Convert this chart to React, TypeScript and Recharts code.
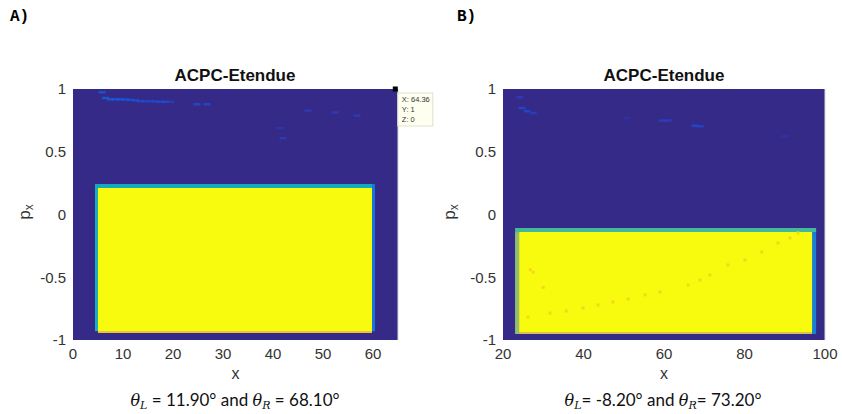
import React from 'react'
import {
  ScatterChart, Scatter, XAxis, YAxis, CartesianGrid, ReferenceArea, ReferenceLine,
} from 'recharts'

// --- data ---
const ticksY = [-1, -0.5, 0, 0.5, 1]
const ticksXA = [0, 10, 20, 30, 40, 50, 60]
const ticksXB = [20, 40, 60, 80, 100]

// region maps: [x1, x2, y1, y2, level]
const regionsA: [number, number, number, number, number][] = [
  [4.4, 5.0, -0.93, 0.243, 0.5],
  [4.4, 60.4, 0.211, 0.243, 0.48],
  [59.8, 60.4, -0.93, 0.243, 0.3],
  [5.0, 59.8, -0.944, -0.928, 0.85],
  [5.0, 59.8, -0.928, 0.211, 1],
]
const regionsB: [number, number, number, number, number][] = [
  [23.0, 97.8, -0.14, -0.108, 0.58],
  [23.0, 24.0, -0.952, -0.14, 0.68],
  [96.8, 97.8, -0.952, -0.14, 0.33],
  [24.0, 96.8, -0.952, -0.936, 0.8],
  [24.0, 96.8, -0.936, -0.14, 1],
]

const speckA = [
  { x: 5.8, y: 0.976, level: 0.22 },
  { x: 6.5, y: 0.93, level: 0.24 }, { x: 7.5, y: 0.92, level: 0.24 },
  { x: 8.5, y: 0.92, level: 0.22 }, { x: 9.5, y: 0.92, level: 0.22 },
  { x: 10.5, y: 0.918, level: 0.2 }, { x: 11.5, y: 0.915, level: 0.2 },
  { x: 12.5, y: 0.912, level: 0.18 }, { x: 13.5, y: 0.905, level: 0.16 },
  { x: 14.5, y: 0.905, level: 0.14 }, { x: 15.5, y: 0.905, level: 0.14 },
  { x: 16.5, y: 0.903, level: 0.14 }, { x: 17.5, y: 0.9, level: 0.16 },
  { x: 18.5, y: 0.9, level: 0.18 }, { x: 19.5, y: 0.9, level: 0.12 },
  { x: 24.8, y: 0.88, level: 0.16 }, { x: 26.8, y: 0.88, level: 0.16 },
  { x: 47, y: 0.83, level: 0.1 }, { x: 52.4, y: 0.815, level: 0.1 },
  { x: 56.8, y: 0.79, level: 0.1 }, { x: 41.4, y: 0.69, level: 0.08 },
  { x: 42, y: 0.61, level: 0.1 },
]
const speckB = [
  { x: 24.2, y: 0.936, level: 0.1 }, { x: 24.7, y: 0.85, level: 0.16 },
  { x: 26, y: 0.825, level: 0.16 }, { x: 27.5, y: 0.81, level: 0.12 },
  { x: 50.8, y: 0.77, level: 0.06 }, { x: 59.5, y: 0.75, level: 0.12 },
  { x: 61, y: 0.75, level: 0.12 }, { x: 67.7, y: 0.71, level: 0.16 },
  { x: 69, y: 0.705, level: 0.14 }, { x: 90, y: 0.625, level: 0.06 },
]
const traceB = [
  { x: 26.2, y: -0.817 }, { x: 31.7, y: -0.785 }, { x: 35.7, y: -0.769 },
  { x: 39.9, y: -0.745 }, { x: 43.6, y: -0.721 }, { x: 47.3, y: -0.697 },
  { x: 51.1, y: -0.673 }, { x: 55.3, y: -0.641 }, { x: 59.0, y: -0.618 },
  { x: 66.0, y: -0.562 }, { x: 68.9, y: -0.522 }, { x: 71.4, y: -0.482 },
  { x: 75.9, y: -0.402 }, { x: 80.1, y: -0.363 }, { x: 84.3, y: -0.299 },
  { x: 88.3, y: -0.227 }, { x: 91.3, y: -0.187 }, { x: 93.3, y: -0.147 },
  { x: 27.5, y: -0.46 }, { x: 30, y: -0.58 }, { x: 26.8, y: -0.44 },
]
const tipA = [{ x: 64.36, y: 1, z: 0 }]

// parula-ish colormap
const stops = ['#352a87', '#2c3fc4', '#0f5cdd', '#1481d6', '#06a4ca', '#2eb7a4', '#87bf77', '#d1bb59', '#fec832', '#f9fb0e']
const hex = (h: string) => [1, 3, 5].map(i => parseInt(h.slice(i, i + 2), 16))
const parula = (t: number) => {
  const p = Math.max(0, Math.min(1, t)) * (stops.length - 1)
  const i = Math.min(stops.length - 2, Math.floor(p))
  const f = p - i
  const a = hex(stops[i]), b = hex(stops[i + 1])
  const c = a.map((v, k) => Math.round(v + (b[k] - v) * f))
  return `rgb(${c[0]},${c[1]},${c[2]})`
}

const textFont = 'Liberation Sans, Arial, sans-serif'
const tickStyle = { fontSize: 15, fill: '#333', fontFamily: textFont }

const Speck = (props: any) => {
  const { cx, cy, payload } = props
  return <rect x={cx - 3.5} y={cy - 1} width={7} height={2.5} fill={parula(payload.level)} opacity={0.8} />
}

const TraceDot = (props: any) => {
  const { cx, cy } = props
  return <rect x={cx - 1.5} y={cy - 1.5} width={3} height={3} fill="#f3d81a" />
}

const DataTip = (props: any) => {
  const { cx, cy, payload } = props
  return (
    <g>
      <rect x={cx - 2} y={cy - 2.5} width={5} height={5} fill="#000" />
      <rect x={cx + 3} y={cy + 4} width={35} height={33} fill="#fffff0" stroke="#e0e0d0" />
      <g fontFamily={textFont} fontSize={7.5} fill="#333">
        <text x={cx + 7} y={cy + 13}>{`X: ${payload.x}`}</text>
        <text x={cx + 7} y={cy + 23}>{`Y: ${payload.y}`}</text>
        <text x={cx + 7} y={cy + 33}>{`Z: ${payload.z}`}</text>
      </g>
    </g>
  )
}

interface PanelProps {
  left: number
  width: number
  margin: { top: number; right: number; bottom: number; left: number }
  domainX: [number, number]
  ticksX: number[]
  regions: [number, number, number, number, number][]
  specks: { x: number; y: number; level: number }[]
  trace?: { x: number; y: number }[]
  tip?: { x: number; y: number; z: number }[]
}

function Panel({ left, width, margin, domainX, ticksX, regions, specks, trace, tip }: PanelProps) {
  return (
    <div style={{ position: 'absolute', left, top: 0 }}>
      <ScatterChart width={width} height={414} margin={margin}>
        <CartesianGrid fill={parula(0)} fillOpacity={1} horizontal={false} vertical={false} stroke="none" />
        <XAxis
          type="number" dataKey="x" domain={domainX} ticks={ticksX}
          height={30} tick={tickStyle} tickLine={false} axisLine={false} tickSize={6} tickMargin={2}
          label={{ value: 'x', position: 'bottom', offset: -2, style: { fontSize: 16, fill: '#333', fontFamily: textFont } }}
        />
        <YAxis
          type="number" dataKey="y" domain={[-1, 1]} ticks={ticksY}
          width={40} tick={tickStyle} tickLine={false} axisLine={false} tickSize={5} tickMargin={2}
        />
        {regions.map(([x1, x2, y1, y2, lv], i) => (
          <ReferenceArea key={i} x1={x1} x2={x2} y1={y1} y2={y2} fill={parula(lv)} fillOpacity={1} stroke="none" />
        ))}
        <ReferenceLine x={domainX[1]} stroke="#d8d8d8" />
        <Scatter data={specks} shape={Speck} isAnimationActive={false} />
        {trace && <Scatter data={trace} shape={TraceDot} isAnimationActive={false} />}
        {tip && <Scatter data={tip} shape={DataTip} isAnimationActive={false} />}
      </ScatterChart>
    </div>
  )
}

const titleStyle: React.CSSProperties = {
  position: 'absolute', top: 66, width: 300, textAlign: 'center', fontFamily: textFont,
  fontWeight: 'bold', fontSize: 17, lineHeight: '20px', color: '#111',
}
const captionStyle: React.CSSProperties = {
  position: 'absolute', top: 389, width: 400, textAlign: 'center', fontFamily: 'Lato, sans-serif',
  fontSize: 17, lineHeight: '22px', color: '#111',
}
const pxStyle: React.CSSProperties = {
  position: 'absolute', top: 202, width: 24, height: 20, textAlign: 'center', fontFamily: textFont,
  fontSize: 17, lineHeight: '20px', color: '#333', transform: 'rotate(-90deg)',
}
const letterStyle: React.CSSProperties = {
  position: 'absolute', top: 8, fontFamily: 'Liberation Mono, monospace', fontWeight: 'bold', fontSize: 16,
}
const theta: React.CSSProperties = { fontFamily: 'DejaVu Serif, serif', fontStyle: 'italic', fontSize: 16 }
const sub: React.CSSProperties = { fontFamily: 'DejaVu Serif, serif', fontStyle: 'italic', fontSize: 11, verticalAlign: '-3px' }

export default function App() {
  return (
    <div style={{ position: 'absolute', left: 0, top: 0, width: 842, height: 414, background: '#fff', overflow: 'hidden' }}>
      <div style={{ ...letterStyle, left: 10 }}>A)</div>
      <div style={{ ...letterStyle, left: 457 }}>B)</div>

      <Panel
        left={420} width={422} margin={{ top: 89, right: 17, bottom: 44, left: 43 }}
        domainX={[20, 100]} ticksX={ticksXB} regions={regionsB} specks={speckB} trace={traceB}
      />
      <Panel
        left={0} width={450} margin={{ top: 89, right: 52, bottom: 44, left: 33 }}
        domainX={[0, 65]} ticksX={ticksXA} regions={regionsA} specks={speckA} tip={tipA}
      />

      <div style={{ ...titleStyle, left: 85 }}>ACPC-Etendue</div>
      <div style={{ ...titleStyle, left: 514 }}>ACPC-Etendue</div>

      <div style={{ ...pxStyle, left: 13 }}>p<span style={{ fontSize: 12, verticalAlign: '-3px' }}>x</span></div>
      <div style={{ ...pxStyle, left: 438 }}>p<span style={{ fontSize: 12, verticalAlign: '-3px' }}>x</span></div>

      <div style={{ ...captionStyle, left: 35 }}>
        <span style={theta}>θ</span><span style={sub}>L</span> = 11.90° and <span style={theta}>θ</span><span style={sub}>R</span> = 68.10°
      </div>
      <div style={{ ...captionStyle, left: 463 }}>
        <span style={theta}>θ</span><span style={sub}>L</span>= -8.20° and <span style={theta}>θ</span><span style={sub}>R</span>= 73.20°
      </div>
    </div>
  )
}
